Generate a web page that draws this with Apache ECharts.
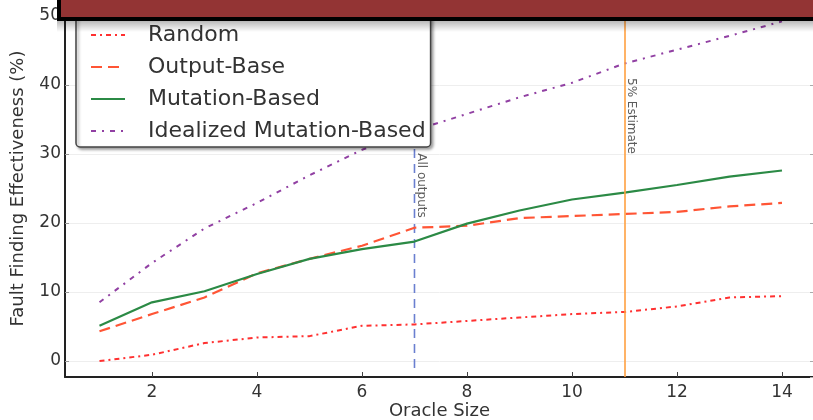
<!DOCTYPE html>
<html>
<head>
<meta charset="utf-8">
<script src="https://cdn.jsdelivr.net/npm/echarts@6/dist/echarts.min.js"></script>
<style>
  html, body { margin: 0; padding: 0; background: #ffffff; }
  #chart { width: 813px; height: 420px; }
</style>
</head>
<body>
<div id="chart"></div>
<script>
// Oracle sizes on the x axis
const oracleSizes = [1, 2, 3, 4, 5, 6, 7, 8, 9, 10, 11, 12, 13, 14];

// Fault finding effectiveness (%) per oracle size
const randomVals     = [0.0, 0.9, 2.6, 3.4, 3.6, 5.1, 5.3, 5.8, 6.3, 6.8, 7.1, 7.9, 9.2, 9.4];
const outputBaseVals = [4.3, 6.8, 9.2, 12.7, 14.8, 16.7, 19.3, 19.6, 20.7, 21.0, 21.3, 21.6, 22.4, 22.9];
const mutationVals   = [5.1, 8.5, 10.1, 12.6, 14.8, 16.2, 17.3, 19.9, 21.8, 23.4, 24.4, 25.5, 26.7, 27.6];
const idealizedVals  = [8.5, 14.2, 19.2, 22.9, 26.9, 30.6, 33.4, 35.8, 38.2, 40.3, 43.1, 45.1, 47.1, 49.2];

const seriesNames = ['Random', 'Output-Base', 'Mutation-Based', 'Idealized Mutation-Based'];

// Reference markers: "All outputs" at size 7, "5% Estimate" at size 11
const allOutputsX = 7;
const allOutputsSpan = [-1, 50];
const allOutputsLabelY = 30.1;
const estimateX = 11;
const estimateLabelY = 41.0;

const FONT = 'DejaVu Sans';

function pairs(vals) {
  return oracleSizes.map((x, i) => [x, vals[i]]);
}

const chart = echarts.init(document.getElementById('chart'), null, { renderer: 'canvas' });

const option = {
  animation: false,
  backgroundColor: '#ffffff',
  textStyle: { fontFamily: FONT },
  grid: { left: 65, top: 0, right: -1, bottom: 43, containLabel: false, outerBoundsMode: 'none' },
  xAxis: {
    type: 'value',
    min: 0.343,
    max: 14.61,
    splitNumber: 7,
    name: 'Oracle Size',
    nameLocation: 'middle',
    nameGap: 25,
    nameMoveOverlap: false,
    nameTextStyle: { fontSize: 18, color: '#333', fontFamily: FONT },
    axisLine: { show: true, onZero: false, lineStyle: { color: '#222', width: 2 } },
    axisTick: { show: true, inside: true, length: 5, lineStyle: { color: '#444', width: 1 } },
    axisLabel: { fontSize: 17, color: '#333', margin: 7, fontFamily: FONT, showMinLabel: false, showMaxLabel: false },
    splitLine: { show: false }
  },
  yAxis: [{
    type: 'value',
    min: -2.32,
    max: 52.3,
    splitNumber: 5,
    name: 'Fault Finding Effectiveness (%)',
    nameLocation: 'middle',
    nameGap: 38,
    nameMoveOverlap: false,
    nameTextStyle: { fontSize: 18, color: '#333', fontFamily: FONT },
    axisLine: { show: true, onZero: false, lineStyle: { color: '#222', width: 2 } },
    axisTick: { show: true, inside: true, length: 4, lineStyle: { color: '#999', width: 1 } },
    axisLabel: { fontSize: 17, color: '#333', margin: 4, fontFamily: FONT, showMinLabel: false, showMaxLabel: false },
    splitLine: { show: true, lineStyle: { color: '#eeeeee', width: 1 } }
  }, {
    type: 'value',
    position: 'right',
    min: -2.32,
    max: 52.3,
    splitNumber: 5,
    axisLine: { show: false },
    axisTick: { show: true, inside: true, length: 4, lineStyle: { color: '#aaa', width: 1 } },
    axisLabel: { show: false },
    splitLine: { show: false }
  }],
  legend: {
    data: seriesNames,
    orient: 'vertical',
    left: 76,
    top: 16,
    z: 20,
    padding: [8, 5, 5, 14],
    itemWidth: 34,
    itemHeight: 20,
    itemGap: 10,
    itemStyle: { opacity: 0 },
    backgroundColor: '#ffffff',
    borderColor: '#444',
    borderWidth: 1.5,
    borderRadius: 4,
    shadowColor: 'rgba(0,0,0,0.35)',
    shadowBlur: 3,
    shadowOffsetX: 2,
    shadowOffsetY: 2,
    textStyle: { fontSize: 22, color: '#333', fontFamily: FONT, padding: [0, 0, 0, 18] },
    selectedMode: false
  },
  series: [
    {
      name: 'Random',
      type: 'line',
      data: pairs(randomVals),
      showSymbol: false,
      symbol: 'none',
      lineStyle: { color: '#ff3030', width: 2, type: [5, 4, 2, 4] },
      itemStyle: { color: '#ff3030' },
      z: 3
    },
    {
      name: 'Output-Base',
      type: 'line',
      data: pairs(outputBaseVals),
      showSymbol: false,
      symbol: 'none',
      lineStyle: { color: '#ff5535', width: 2.2, type: [11, 6] },
      itemStyle: { color: '#ff5535' },
      z: 3
    },
    {
      name: 'Mutation-Based',
      type: 'line',
      data: pairs(mutationVals),
      showSymbol: false,
      symbol: 'none',
      lineStyle: { color: '#2b8a45', width: 2.2 },
      itemStyle: { color: '#2b8a45' },
      z: 3
    },
    {
      name: 'Idealized Mutation-Based',
      type: 'line',
      data: pairs(idealizedVals),
      showSymbol: false,
      symbol: 'none',
      lineStyle: { color: '#9140a3', width: 2, type: [5, 6, 2, 6] },
      itemStyle: { color: '#9140a3' },
      z: 3
    },
    {
      // vertical reference line at the "All outputs" size
      name: 'allOutputsLine',
      type: 'line',
      data: allOutputsSpan.map(v => [allOutputsX, v]),
      showSymbol: false,
      symbol: 'none',
      lineStyle: { color: '#6a7fd0', width: 1.6, type: [9, 6] },
      z: 2
    },
    {
      // vertical reference line at the 5% estimate size
      name: 'estimateLine',
      type: 'line',
      data: [],
      symbol: 'none',
      markLine: {
        silent: true,
        symbol: ['none', 'none'],
        label: { show: false },
        lineStyle: { color: '#ffa040', width: 1.6, type: 'solid' },
        data: [{ xAxis: estimateX }]
      },
      z: 2
    },
    {
      // rotated annotations beside the reference lines
      name: 'annotations',
      type: 'scatter',
      symbolSize: 0,
      data: [
        { value: [allOutputsX, allOutputsLabelY], text: 'All outputs' },
        { value: [estimateX, estimateLabelY], text: '5% Estimate' }
      ],
      label: {
        show: true,
        formatter: p => p.data.text,
        position: [1, 0],
        rotate: -90,
        align: 'left',
        verticalAlign: 'bottom',
        fontSize: 12,
        color: '#333',
        fontFamily: FONT
      },
      z: 3
    }
  ],
  graphic: [
    {
      // soft shadow under the title bar
      type: 'rect',
      left: 57, top: 19,
      shape: { width: 760, height: 13 },
      style: {
        fill: new echarts.graphic.LinearGradient(0, 0, 0, 1, [
          { offset: 0, color: 'rgba(0,0,0,0.32)' },
          { offset: 1, color: 'rgba(0,0,0,0)' }
        ])
      },
      z: 100
    },
    {
      // title bar
      type: 'rect',
      left: 57, top: -6,
      shape: { width: 770, height: 23 },
      style: { fill: '#933434', stroke: '#000', lineWidth: 4 },
      z: 101
    }
  ]
};

chart.setOption(option);
</script>
</body>
</html>
